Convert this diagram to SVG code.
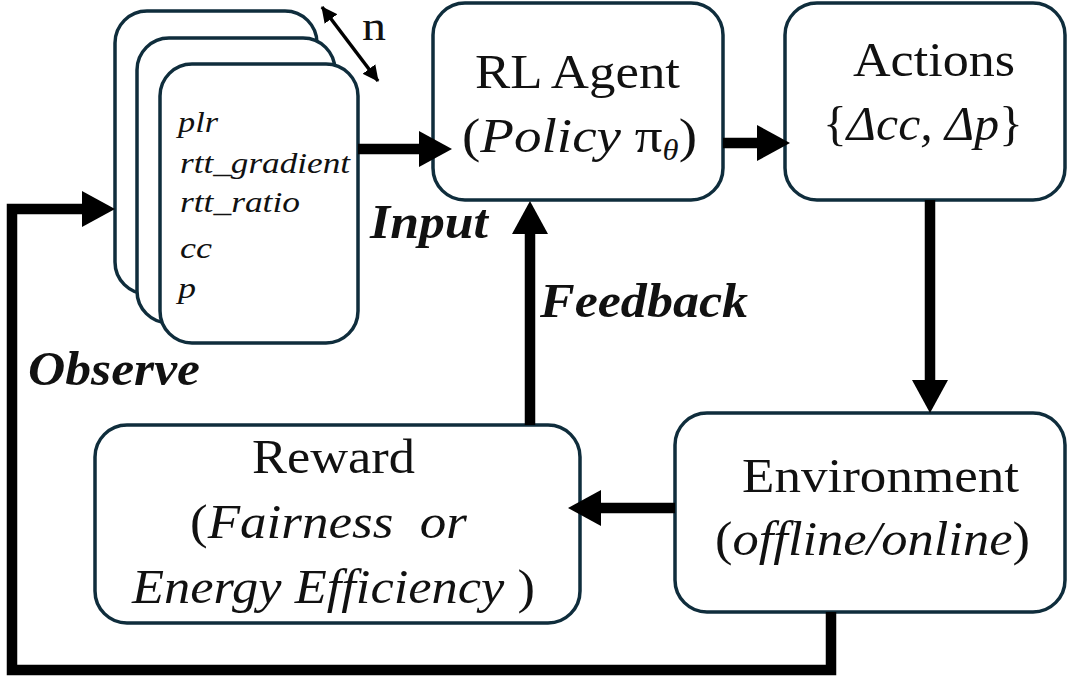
<svg xmlns="http://www.w3.org/2000/svg" width="1069" height="679" viewBox="0 0 1069 679">
  <defs>
    <style>
      .box { fill: #ffffff; stroke: #0f2d3c; stroke-width: 3.5; }
      .wire { fill: none; stroke: #000000; stroke-width: 10.5; }
      .thin { fill: none; stroke: #000000; stroke-width: 3.5; }
      .t { font-family: "Liberation Serif", "Times New Roman", serif; fill: #111111; }
      .lbl { font-size: 49px; }
      .it { font-style: italic; }
      .bi { font-style: italic; font-weight: bold; font-size: 48px; }
      .feat { font-size: 29px; font-style: italic; }
    </style>
    <marker id="head" markerUnits="userSpaceOnUse" viewBox="0 -19 34 38" markerWidth="34" markerHeight="38" refX="0" refY="0" orient="auto">
      <path d="M0,-18 L33,0 L0,18 z" fill="#000000"/>
    </marker>
    <marker id="small" markerUnits="userSpaceOnUse" viewBox="0 -9 16 18" markerWidth="16" markerHeight="18" refX="15" refY="0" orient="auto-start-reverse">
      <path d="M0,-8 L16,0 L0,8 z" fill="#000000"/>
    </marker>
  </defs>
  <rect width="1069" height="679" fill="#ffffff"/>

  <!-- stacked observation windows (n copies) -->
  <g id="observations">
    <rect class="box" x="115" y="11" width="202" height="283" rx="32"/>
    <rect class="box" x="137" y="38" width="198" height="285" rx="32"/>
    <rect class="box" x="160" y="64" width="198" height="279" rx="32"/>
    <text class="t feat" x="178" y="132" textLength="40" lengthAdjust="spacingAndGlyphs">plr</text>
    <text class="t feat" x="180" y="173" textLength="170" lengthAdjust="spacingAndGlyphs">rtt_gradient</text>
    <text class="t feat" x="180" y="212" textLength="120" lengthAdjust="spacingAndGlyphs">rtt_ratio</text>
    <text class="t feat" x="180" y="258" textLength="32" lengthAdjust="spacingAndGlyphs">cc</text>
    <text class="t feat" x="178" y="298" textLength="18" lengthAdjust="spacingAndGlyphs">p</text>
    <line class="thin" x1="322" y1="7" x2="378" y2="81" marker-start="url(#small)" marker-end="url(#small)"/>
    <text class="t" x="362" y="40" font-size="42" textLength="24" lengthAdjust="spacingAndGlyphs">n</text>
  </g>

  <g id="agent">
    <rect class="box" x="433" y="3" width="290" height="197" rx="32"/>
    <text class="t lbl" x="475" y="88" textLength="205" lengthAdjust="spacingAndGlyphs">RL Agent</text>
    <text class="t lbl" x="462" y="152" textLength="235" lengthAdjust="spacingAndGlyphs">(<tspan class="it">Policy </tspan>π<tspan class="it" font-size="29" dy="8">θ</tspan><tspan dy="-8">)</tspan></text>
  </g>

  <g id="actions">
    <rect class="box" x="785" y="3" width="280" height="197" rx="32"/>
    <text class="t lbl" x="853" y="76" textLength="162" lengthAdjust="spacingAndGlyphs">Actions</text>
    <text class="t lbl" x="823" y="140" textLength="200" lengthAdjust="spacingAndGlyphs">{<tspan class="it">Δcc, Δp</tspan>}</text>
  </g>

  <g id="environment">
    <rect class="box" x="675" y="413" width="390" height="199" rx="32"/>
    <text class="t lbl" x="742" y="492" textLength="277" lengthAdjust="spacingAndGlyphs">Environment</text>
    <text class="t lbl" x="715" y="555" textLength="315" lengthAdjust="spacingAndGlyphs">(<tspan class="it">offline/online</tspan>)</text>
  </g>

  <g id="reward">
    <rect class="box" x="95" y="425" width="485" height="198" rx="32"/>
    <text class="t lbl" x="252" y="473" textLength="163" lengthAdjust="spacingAndGlyphs">Reward</text>
    <text class="t lbl" x="190" y="538" textLength="277" lengthAdjust="spacingAndGlyphs" xml:space="preserve">(<tspan class="it">Fairness  or</tspan></text>
    <text class="t lbl" x="132" y="603" textLength="403" lengthAdjust="spacingAndGlyphs" xml:space="preserve"><tspan class="it">Energy Efficiency </tspan>)</text>
  </g>

  <g id="connectors">
    <line class="wire" x1="358" y1="149" x2="419" y2="149" marker-end="url(#head)"/>
    <line class="wire" x1="723" y1="143" x2="757" y2="143" marker-end="url(#head)"/>
    <line class="wire" x1="930" y1="200" x2="930" y2="380" marker-end="url(#head)"/>
    <line class="wire" x1="675" y1="508" x2="601" y2="508" marker-end="url(#head)"/>
    <line class="wire" x1="530" y1="425" x2="530" y2="234" marker-end="url(#head)"/>
    <path class="wire" d="M831,612 V670 H12 V209 H82" marker-end="url(#head)"/>
    <text class="t bi" x="370" y="238" textLength="118" lengthAdjust="spacingAndGlyphs">Input</text>
    <text class="t bi" x="540" y="317" textLength="208" lengthAdjust="spacingAndGlyphs">Feedback</text>
    <text class="t bi" x="28" y="385" textLength="172" lengthAdjust="spacingAndGlyphs">Observe</text>
  </g>
</svg>
